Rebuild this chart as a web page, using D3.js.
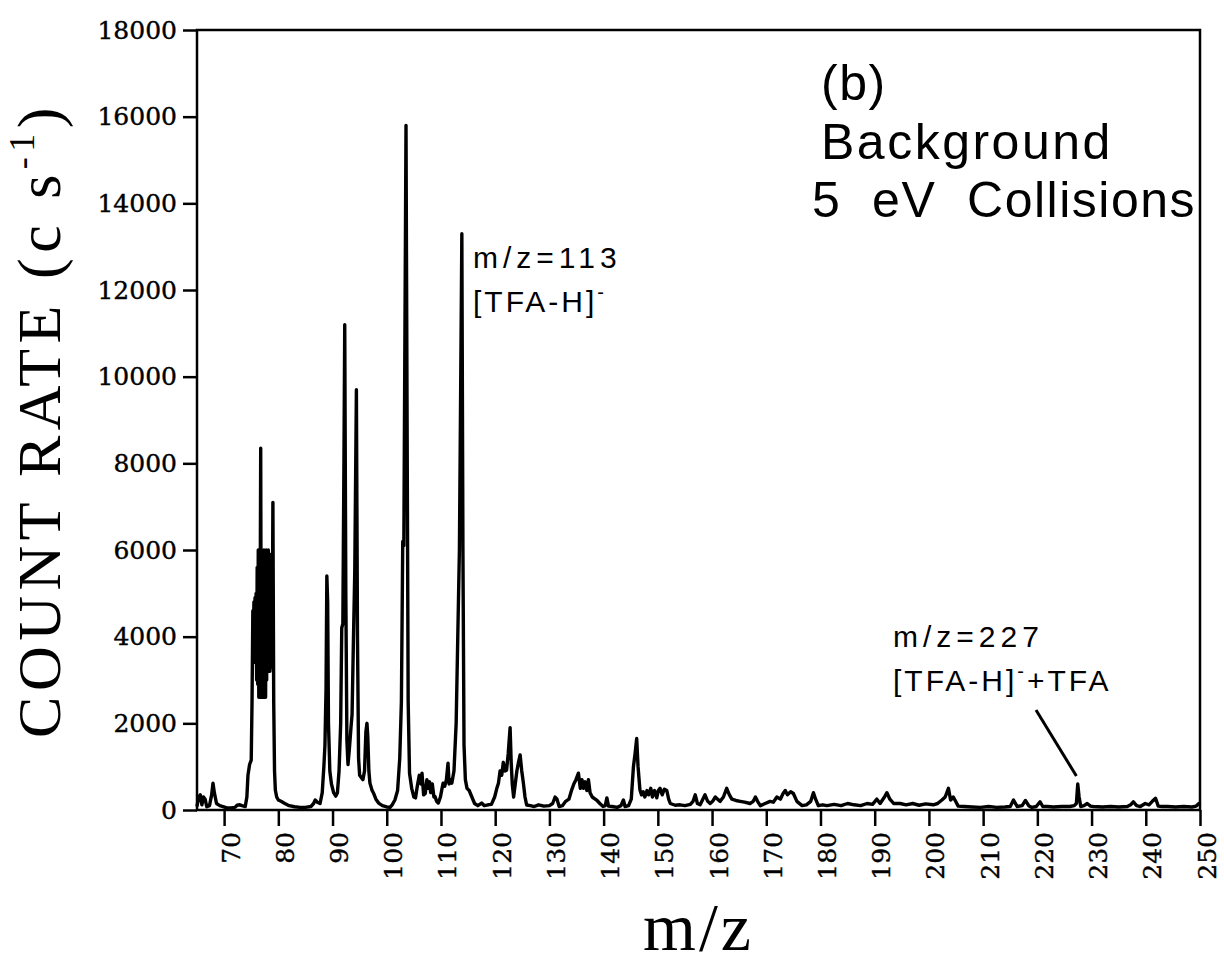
<!DOCTYPE html>
<html>
<head>
<meta charset="utf-8">
<script src="https://cdn.jsdelivr.net/npm/d3@7"></script>
<style>
	body { margin: 0; background: #fff; }
	svg { display: block; }
</style>
</head>
<body>
<div id="chart"></div>
<script>
// spectrum, [m/z, counts per second], split by region
const spec65to80 = [
	[65.0, 80], [65.3, 300], [65.6, 350], [65.9, 120], [66.2, 300], [66.5, 250], [66.8, 75],
	[67.3, 100], [67.7, 350], [67.95, 620], [68.2, 400], [68.6, 150], [69.2, 100], [69.8, 80],
	[70.5, 50], [71.2, 50], [72.0, 60], [72.4, 110], [72.9, 120], [73.3, 100], [73.9, 80],
	[74.2, 300], [74.4, 800], [74.7, 1050], [75.0, 1150], [75.15, 2500], [75.3, 4600],
	[75.4, 3900], [75.5, 4800], [75.6, 3600], [75.7, 4900], [75.8, 3400], [75.9, 5000],
	[76.0, 3000], [76.1, 5600], [76.2, 2900], [76.3, 6000], [76.4, 2600], [76.5, 5900],
	[76.6, 3000], [76.75, 8350], [76.85, 2600], [76.95, 6000], [77.05, 3100], [77.15, 5900],
	[77.25, 2600], [77.35, 6000], [77.45, 3300], [77.55, 5800], [77.65, 2600], [77.75, 6000],
	[77.85, 3000], [77.95, 5900], [78.05, 3200], [78.15, 6000], [78.25, 3500], [78.35, 5600],
	[78.45, 3200], [78.55, 5900], [78.65, 3600], [78.75, 4500], [78.85, 3300], [79.0, 7100],
	[79.15, 2500], [79.3, 900], [79.45, 460], [79.7, 300], [80.0, 230],
];
const spec80to116 = [
	[80.5, 200], [81.2, 150], [82.0, 100], [83.0, 75], [84.0, 60], [85.0, 60], [86.0, 80],
	[86.5, 150], [86.8, 230], [87.2, 180], [87.7, 150], [88.1, 400], [88.4, 1000], [88.6, 1500],
	[88.8, 2800], [88.95, 5400], [89.1, 4800], [89.25, 2000], [89.5, 900], [89.8, 600],
	[90.2, 400], [90.6, 320], [90.9, 400], [91.2, 900], [91.5, 2000], [91.7, 4200], [91.9, 4300],
	[92.1, 8000], [92.25, 11200], [92.45, 5000], [92.65, 1600], [92.85, 1050], [93.1, 1400],
	[93.4, 1900], [93.6, 2200], [93.85, 3900], [94.1, 5500], [94.4, 9700], [94.6, 4000],
	[94.8, 1200], [95.0, 800], [95.3, 750], [95.6, 700], [95.9, 900], [96.15, 1800],
	[96.35, 2000], [96.5, 1700], [96.7, 900], [96.9, 620], [97.3, 450], [97.6, 380],
	[98.0, 250], [98.5, 160], [99.2, 100], [100.0, 70], [100.6, 60], [101.0, 120], [101.5, 230],
	[102.0, 450], [102.4, 1200], [102.7, 2500], [102.95, 6200], [103.15, 6100], [103.55, 15800],
	[103.75, 9000], [103.95, 2500], [104.2, 850], [104.6, 500], [105.0, 300], [105.3, 280],
	[105.7, 600], [106.0, 800], [106.3, 600], [106.5, 850], [106.8, 350], [107.1, 380],
	[107.4, 700], [107.6, 500], [107.9, 650], [108.1, 400], [108.4, 600], [108.7, 300],
	[108.9, 310], [109.2, 200], [109.5, 160], [109.9, 300], [110.2, 500], [110.4, 620],
	[110.7, 550], [111.0, 700], [111.3, 1080], [111.5, 600], [111.8, 700], [112.0, 620],
	[112.4, 900], [112.8, 2000], [113.1, 4000], [113.4, 6000], [113.65, 10000], [113.85, 13300],
	[114.05, 6000], [114.25, 1500], [114.5, 700], [114.8, 500], [115.2, 450], [115.7, 300],
	[116.2, 150],
];
const spec116to152 = [
	[116.8, 100], [117.5, 160], [118.0, 100], [118.7, 120], [119.3, 130], [119.9, 300],
	[120.3, 500], [120.6, 620], [120.9, 900], [121.2, 800], [121.5, 1100], [121.8, 900],
	[122.1, 920], [122.4, 1300], [122.75, 1900], [122.95, 1100], [123.15, 600], [123.4, 300],
	[123.7, 600], [124.0, 900], [124.3, 1100], [124.6, 1270], [124.9, 900], [125.2, 620],
	[125.5, 300], [125.8, 115], [126.5, 100], [127.2, 80], [128.0, 120], [129.0, 90],
	[130.0, 100], [130.6, 150], [131.05, 300], [131.4, 250], [131.8, 80], [132.4, 100],
	[133.0, 200], [133.6, 250], [134.1, 460], [134.5, 600], [134.9, 700], [135.35, 850],
	[135.7, 500], [136.0, 700], [136.3, 500], [136.6, 650], [136.9, 450], [137.2, 700],
	[137.5, 400], [137.9, 300], [138.7, 230], [139.3, 150], [139.9, 80], [140.3, 100],
	[140.6, 280], [140.9, 90], [141.6, 80], [142.5, 60], [143.2, 100], [143.65, 230],
	[143.95, 80], [144.6, 100], [145.1, 250], [145.5, 1000], [145.8, 1300], [146.1, 1650],
	[146.35, 1000], [146.7, 460], [147.0, 350], [147.3, 420], [147.6, 300], [148.0, 450],
	[148.3, 350], [148.7, 500], [149.0, 300], [149.4, 450], [149.8, 280], [150.1, 450],
	[150.4, 500], [150.8, 350], [151.2, 480], [151.65, 450], [152.0, 250], [152.3, 150],
];
const spec152to200 = [
	[153.2, 110], [154.1, 120], [155.0, 100], [156.0, 130], [156.5, 200], [156.9, 350],
	[157.3, 150], [157.8, 120], [158.3, 250], [158.7, 350], [159.2, 200], [159.65, 150],
	[160.1, 200], [160.6, 300], [161.0, 250], [161.5, 200], [162.1, 300], [162.7, 500],
	[163.2, 350], [163.65, 250], [164.4, 220], [165.2, 200], [166.0, 180], [167.0, 150],
	[167.6, 200], [168.0, 300], [168.4, 200], [168.9, 100], [169.8, 150], [170.7, 200],
	[171.3, 180], [171.95, 300], [172.6, 250], [173.1, 380], [173.5, 450], [173.9, 350],
	[174.5, 420], [175.0, 380], [175.65, 200], [176.6, 100], [177.4, 120], [178.2, 200],
	[178.7, 400], [179.1, 250], [179.6, 100], [180.4, 120], [181.2, 100], [182.5, 130],
	[183.8, 100], [185.0, 150], [186.2, 120], [187.4, 100], [188.6, 150], [189.6, 130],
	[190.4, 250], [191.0, 150], [191.8, 300], [192.25, 400], [192.8, 250], [193.5, 150],
	[194.7, 150], [195.8, 120], [197.0, 150], [198.2, 110], [199.4, 140], [200.8, 120],
];
const spec200to250 = [
	[201.6, 150], [202.4, 230], [203.0, 300], [203.6, 500], [204.0, 230], [204.5, 300],
	[205.4, 90], [206.5, 80], [208.0, 70], [209.5, 60], [211.0, 80], [212.5, 60], [214.0, 70],
	[215.0, 80], [215.6, 230], [216.3, 80], [217.2, 100], [217.8, 220], [218.4, 100],
	[219.0, 60], [219.8, 80], [220.5, 190], [221.0, 80], [221.8, 80], [223.0, 70],
	[224.5, 80], [226.0, 80], [226.8, 100], [227.2, 150], [227.45, 600], [227.7, 300],
	[228.0, 80], [228.6, 100], [229.2, 150], [229.8, 90], [230.3, 80], [232.0, 70],
	[233.5, 80], [235.0, 70], [236.6, 80], [237.2, 120], [237.7, 190], [238.3, 100],
	[239.0, 80], [239.9, 150], [240.6, 120], [241.2, 200], [241.8, 270], [242.3, 90],
	[243.0, 80], [244.0, 80], [245.5, 70], [247.0, 80], [248.5, 70], [249.3, 90],
	[249.8, 150], [250.0, 120],
];
const xTicks = [70, 80, 90, 100, 110, 120, 130, 140, 150, 160, 170, 180, 190, 200, 210, 220, 230, 240, 250];
const yTicks = [0, 2000, 4000, 6000, 8000, 10000, 12000, 14000, 16000, 18000];

const spectrum = [].concat(spec65to80, spec80to116, spec116to152, spec152to200, spec200to250);

const W = 1224, H = 967;
const margin = { t: 30, r: 24, b: 157, l: 197 };
const pw = W - margin.l - margin.r;
const ph = H - margin.t - margin.b;

const svg = d3.select("#chart").append("svg").attr("width", W).attr("height", H);
const g = svg.append("g").attr("transform", `translate(${margin.l},${margin.t})`);

const x = d3.scaleLinear().domain([65, 250]).range([0, pw]);
const y = d3.scaleLinear().domain([0, 18000]).range([ph, 0]);

const serif = "'DejaVu Serif', serif";
const times = "'Liberation Serif', 'Times New Roman', serif";
const sans = "'Liberation Sans', Arial, sans-serif";

// axes
const yAxis = g.append("g")
	.call(d3.axisLeft(y).tickValues(yTicks).tickSize(14).tickPadding(6).tickFormat(d3.format("d")));
yAxis.select(".domain").remove();
yAxis.selectAll("line").attr("stroke", "#000").attr("stroke-width", 2.5);
yAxis.selectAll("text")
	.style("font-family", serif)
	.style("font-size", "25px")
	.attr("fill", "#000")
	.attr("stroke", "#000")
	.attr("stroke-width", 0.4);

const xAxis = g.append("g")
	.attr("transform", `translate(0,${ph})`)
	.call(d3.axisBottom(x).tickValues(xTicks).tickSize(16));
xAxis.select(".domain").remove();
xAxis.selectAll("line").attr("stroke", "#000").attr("stroke-width", 2.5);
xAxis.selectAll("text")
	.attr("transform", "rotate(-90)")
	.attr("x", -22)
	.attr("y", 0)
	.attr("dy", "0.6em")
	.style("text-anchor", "end")
	.style("font-family", serif)
	.style("font-size", "25px")
	.attr("fill", "#000")
	.attr("stroke", "#000")
	.attr("stroke-width", 0.4);

// frame
g.append("rect")
	.attr("width", pw)
	.attr("height", ph)
	.attr("fill", "none")
	.attr("stroke", "#000")
	.attr("stroke-width", 2.5);

// spectrum trace
const line = d3.line().x((d) => x(d[0])).y((d) => y(d[1]));
g.append("path")
	.datum(spectrum)
	.attr("d", line)
	.attr("fill", "none")
	.attr("stroke", "#000")
	.attr("stroke-width", 3.4)
	.attr("stroke-linejoin", "round");

// axis titles
const yTitle = svg.append("text")
	.attr("transform", `translate(60,${margin.t + ph / 2}) rotate(-90)`)
	.attr("text-anchor", "middle")
	.style("font-family", times)
	.style("font-size", "62px")
	.style("letter-spacing", "5.5px")
	.attr("fill", "#000");
yTitle.append("tspan").text("COUNT RATE (c s");
yTitle.append("tspan").attr("dy", -26).style("font-size", "36px").text("-1");
yTitle.append("tspan").attr("dy", 26).text(")");

svg.append("text")
	.attr("x", margin.l + pw / 2)
	.attr("y", 950)
	.attr("text-anchor", "middle")
	.style("font-family", times)
	.style("font-size", "68px")
	.style("letter-spacing", "3px")
	.attr("fill", "#000")
	.text("m/z");

// panel caption
const caption = ["(b)", "Background", "5  eV  Collisions"];
caption.forEach((t, i) => {
	svg.append("text")
		.attr("x", i === 2 ? 812 : 821)
		.attr("y", 100 + i * 58.5)
		.style("font-family", sans)
		.style("font-size", "50px")
		.style("letter-spacing", i === 1 ? "2.5px" : "1.5px")
		.style("white-space", "pre")
		.attr("fill", "#000")
		.text(t);
});

// peak labels
function peakLabel(px, py, head, tail) {
	svg.append("text")
		.attr("x", px).attr("y", py)
		.style("font-family", sans).style("font-size", "30px")
		.style("letter-spacing", "5px").attr("fill", "#000")
		.text(head);
	const t2 = svg.append("text")
		.attr("x", px).attr("y", py + 44)
		.style("font-family", sans).style("font-size", "30px")
		.style("letter-spacing", "3px").attr("fill", "#000");
	t2.append("tspan").text("[TFA-H]");
	t2.append("tspan").attr("dy", -13).style("font-size", "20px").text("-");
	if (tail) t2.append("tspan").attr("dy", 13).text(tail);
}
peakLabel(473, 268, "m/z=113", "");
peakLabel(893, 647, "m/z=227", "+TFA");

// leader to the 227 peak
svg.append("line")
	.attr("x1", 1036).attr("y1", 710)
	.attr("x2", margin.l + x(227.2)).attr("y2", 776)
	.attr("stroke", "#000")
	.attr("stroke-width", 3);
</script>
</body>
</html>
